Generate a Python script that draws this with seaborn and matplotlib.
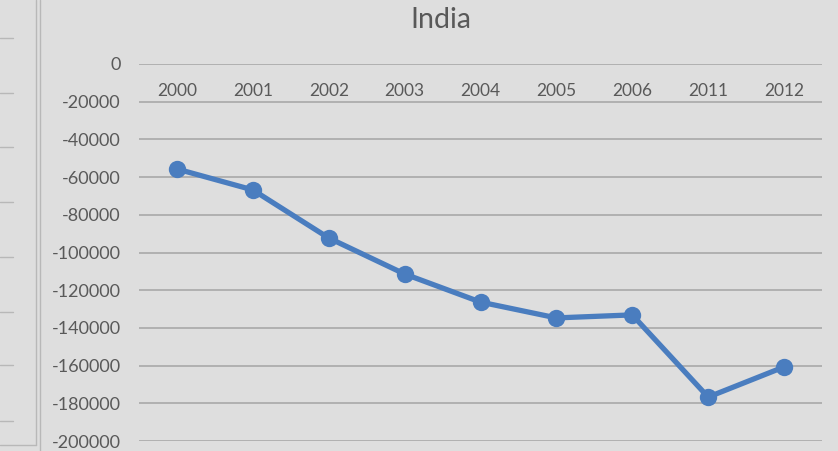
import matplotlib
matplotlib.use("Agg")
import matplotlib.pyplot as plt
from matplotlib.lines import Line2D
import seaborn as sns
import pandas as pd

years = ["2000", "2001", "2002", "2003", "2004", "2005", "2006", "2011", "2012"]
balance = [-55700, -66800, -92300, -111400, -126300, -134700, -133100, -176700, -160700]
yticks = list(range(0, -200001, -20000))

bg = "#dedede"
txt = "#595959"
blue = "#4a7dbf"

sns.set_theme(style="white")
plt.rcParams["font.family"] = ["Lato", "DejaVu Sans"]

df = pd.DataFrame({"Year": years, "Balance": balance})

fig = plt.figure(figsize=(8.38, 4.51), dpi=100, facecolor=bg)
ax = fig.add_axes([139 / 838, 1 - 441 / 451, 683 / 838, 377 / 451])
ax.set_facecolor(bg)

sns.lineplot(
    data=df,
    x="Year",
    y="Balance",
    color=blue,
    linewidth=3.8,
    marker="o",
    markersize=12.5,
    markeredgewidth=0,
    ax=ax
)

ax.set_xlim(-0.5, len(years) - 0.5)
ax.set_ylim(-200000, 0)
ax.set_yticks(yticks)
ax.set_yticklabels([str(v) for v in yticks])
for v in yticks:
    ax.axhline(v, color="#a8a8a8", linewidth=1.2, zorder=0)

ax.xaxis.tick_top()
ax.tick_params(axis="x", top=False, bottom=False, labeltop=True,
               labelbottom=False, pad=-31, labelsize=12.5, labelcolor=txt)
ax.tick_params(axis="y", left=False, pad=7, labelsize=13, labelcolor=txt)
ax.set_xlabel("")
ax.set_ylabel("")
for s in ax.spines.values():
    s.set_visible(False)

fig.text(441 / 838, 1 - 20 / 451, "India", ha="center", va="center",
         fontsize=20.5, color=txt)

# edge of the neighbouring chart on the left
px = fig.transFigure
def fline(xs, ys):
    fig.add_artist(Line2D([x / 838 for x in xs], [1 - y / 451 for y in ys],
                          color="#b8b8b8", linewidth=1, transform=px))

fline([36, 36], [0, 445])
fline([0, 36], [445, 445])
fline([40, 40], [0, 451])
for y in [38, 93, 147, 202, 257, 312, 365, 421]:
    fline([0, 13], [y, y])

plt.savefig("out.png", dpi=100, facecolor=bg)
plt.close()
